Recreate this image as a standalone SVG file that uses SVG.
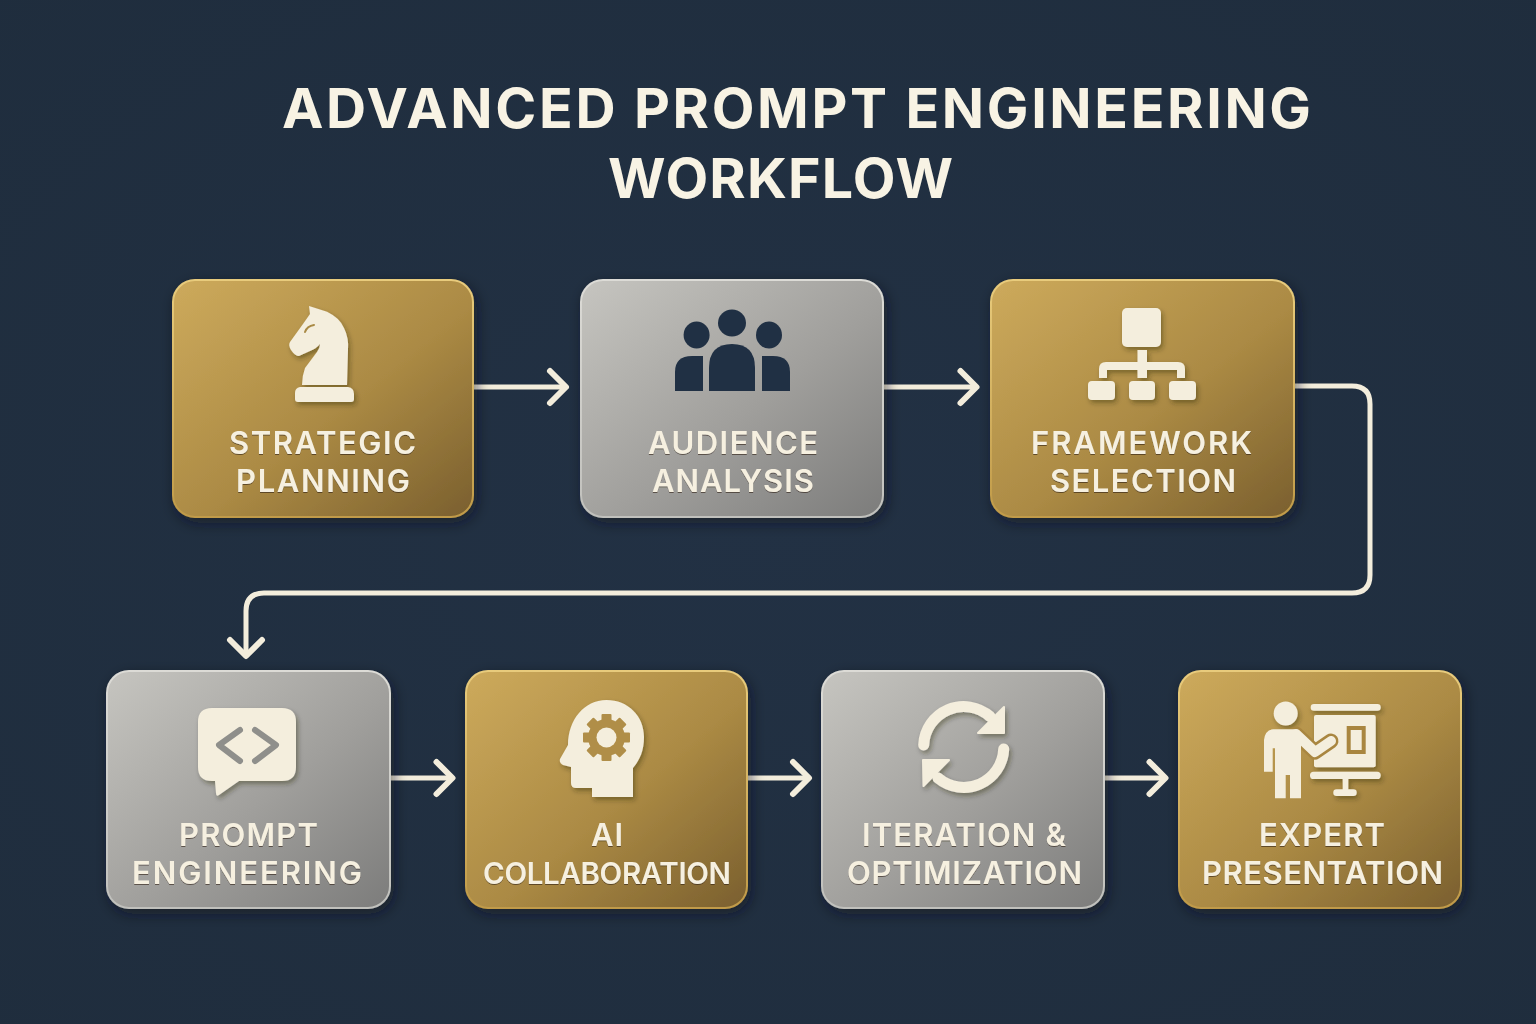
<svg xmlns="http://www.w3.org/2000/svg" width="1536" height="1024" viewBox="0 0 1536 1024">
<defs>
<linearGradient id="gold" x1="0" y1="0" x2="1" y2="1"><stop offset="0" stop-color="#cdaa5c"/><stop offset="0.55" stop-color="#ab8a44"/><stop offset="1" stop-color="#7a5f2e"/></linearGradient>
<linearGradient id="grey" x1="0" y1="0" x2="1" y2="1"><stop offset="0" stop-color="#c6c5c0"/><stop offset="0.55" stop-color="#a09f9c"/><stop offset="1" stop-color="#7c7c7b"/></linearGradient>
<linearGradient id="goldEdge" x1="0" y1="0" x2="0" y2="1"><stop offset="0" stop-color="#e8cb7c"/><stop offset="1" stop-color="#c09a48"/></linearGradient>
<linearGradient id="greyEdge" x1="0" y1="0" x2="0" y2="1"><stop offset="0" stop-color="#dcdbd6"/><stop offset="1" stop-color="#c0c0bc"/></linearGradient>
<radialGradient id="bgGrad" cx="0.5" cy="0.5" r="0.75"><stop offset="0" stop-color="#223144"/><stop offset="1" stop-color="#1f2d3d"/></radialGradient>
<filter id="card" x="-15%" y="-15%" width="130%" height="130%"><feDropShadow dx="3" dy="5" stdDeviation="7" flood-color="#0c1520" flood-opacity="0.55"/></filter>
<filter id="icon" x="-20%" y="-20%" width="140%" height="140%"><feDropShadow dx="2" dy="3" stdDeviation="2.5" flood-color="#2a2010" flood-opacity="0.4"/></filter>
<filter id="txt" x="-5%" y="-20%" width="110%" height="140%"><feDropShadow dx="0" dy="1" stdDeviation="0.6" flood-color="#2a2010" flood-opacity="0.6"/></filter>
<marker id="head" markerUnits="userSpaceOnUse" markerWidth="40" markerHeight="44" refX="20" refY="20" orient="auto" overflow="visible"><path d="M4 4 L20 20 L4 36" fill="none" stroke="#f3eddc" stroke-width="6" stroke-linecap="round" stroke-linejoin="round"/></marker>
</defs>
<style>
.title{font-family:"Inter","Liberation Sans",sans-serif;font-weight:700;font-size:55.5px;fill:#f8f3e4;text-anchor:middle}
.label{font-family:"Inter","Liberation Sans",sans-serif;font-weight:600;font-size:31px;fill:#f6f0e0;text-anchor:middle;filter:url(#txt)}
.conn{fill:none;stroke:#f3eddc;stroke-width:5;marker-end:url(#head)}
.g{fill:url(#gold);stroke:url(#goldEdge);stroke-width:2;filter:url(#card)}
.s{fill:url(#grey);stroke:url(#greyEdge);stroke-width:2;filter:url(#card)}
.ic{fill:#f4eedd;filter:url(#icon)}
.dk{fill:#203044}
</style>
<rect width="1536" height="1024" fill="url(#bgGrad)"/>
<g id="title">
<text class="title" x="796.5" y="128" textLength="1029">ADVANCED PROMPT ENGINEERING</text>
<text class="title" x="780.5" y="198" textLength="345">WORKFLOW</text>
</g>
<g id="connectors">
<path class="conn" d="M474 387 H566"/>
<path class="conn" d="M884 387 H976.5"/>
<path class="conn" d="M1295 386 H1352 Q1370 386 1370 404 V575 Q1370 593 1352 593 H264 Q246 593 246 611 V656"/>
<path class="conn" d="M391 778 H452.5"/>
<path class="conn" d="M748 778 H809"/>
<path class="conn" d="M1105 778 H1165.5"/>
</g>
<g id="node-strategic-planning">
<rect class="g" x="173" y="280" width="300" height="237" rx="22"/>
<g class="ic">
<path d="M309 306 L327 311.7 Q340 318 344 328 Q349 338 348 350 L347 385 H302 Q302 376 305 368 L317 352 Q320 348 320 344 Q316 349 310 351 L299 356 Q295 356 291 350 Q288 345 290 342 L303 324 L310 314 Z"/>
<path d="M300 387 H348 Q354 388 354 394 V399 Q354 402 351 402 H298 Q295 402 295 399 V393 Q295 388 300 387 Z"/>
</g>
<path d="M305 332 Q307 326 314 325" fill="none" stroke="#a98a45" stroke-width="2" stroke-linecap="round"/>
<text class="label" x="322.5" y="453.5" textLength="187">STRATEGIC</text>
<text class="label" x="323" y="491.5" textLength="174">PLANNING</text>
</g>
<g id="node-audience-analysis">
<rect class="s" x="581" y="280" width="302" height="237" rx="22"/>
<g class="dk">
<ellipse cx="732" cy="323" rx="14" ry="13.5"/>
<ellipse cx="696.6" cy="335" rx="13" ry="13.5"/>
<ellipse cx="769" cy="335" rx="13" ry="13.5"/>
<path d="M709 391 V368 Q709 344 732 344 Q755 344 755 368 V391 Z"/>
<path d="M675 391 V372 Q675 356 692 356 H703 V391 Z"/>
<path d="M790 391 V372 Q790 356 773 356 H762 V391 Z"/>
</g>
<text class="label" x="733" y="453.5" textLength="170">AUDIENCE</text>
<text class="label" x="733" y="491.5" textLength="162">ANALYSIS</text>
</g>
<g id="node-framework-selection">
<rect class="g" x="991" y="280" width="303" height="237" rx="22"/>
<g class="ic">
<rect x="1122" y="308" width="39" height="39" rx="5"/>
<path d="M1137.5 350 H1147 V362 H1178 Q1185 362 1185 369 V378 H1177 V370 H1147 V378 H1137.5 V370 H1107 V378 H1099 V369 Q1099 362 1106 362 H1137.5 Z"/>
<rect x="1088" y="381" width="27" height="19" rx="4"/>
<rect x="1129" y="381" width="26" height="19" rx="4"/>
<rect x="1169" y="381" width="27" height="19" rx="4"/>
</g>
<text class="label" x="1141.5" y="453.5" textLength="221">FRAMEWORK</text>
<text class="label" x="1143" y="491.5" textLength="186">SELECTION</text>
</g>
<g id="node-prompt-engineering">
<rect class="s" x="107" y="671" width="283" height="237" rx="22"/>
<path class="ic" d="M212 708 H282 Q296 708 296 722 V767 Q296 781 282 781 H239 L219 795 Q216 797 216 793 L215 781 H212 Q198 781 198 767 V722 Q198 708 212 708 Z"/>
<path d="M240 730 L219 745 L240 761 M255 730 L276 745 L255 761" fill="none" stroke="#8f8f8b" stroke-width="6" stroke-linecap="round" stroke-linejoin="round"/>
<text class="label" x="248.5" y="845.5" textLength="139">PROMPT</text>
<text class="label" x="247" y="883.5" textLength="230">ENGINEERING</text>
</g>
<g id="node-ai-collaboration">
<rect class="g" x="466" y="671" width="281" height="237" rx="22"/>
<path class="ic" d="M606.5 700 C628 700 644 716 644 737 C644 750 640 760 633 768 V797 H592 V788 H576 Q571 788 571 783 V767 L563 765 Q559 763 560 759 L568 745 C568 720 584 700 606.5 700 Z"/>
<g fill="#b08e48">
<circle cx="606.5" cy="737.5" r="18.5"/>
<rect x="601.5" y="714" width="10" height="47" rx="1"/>
<rect x="583" y="732.5" width="47" height="10" rx="1"/>
<rect x="601.5" y="714" width="10" height="47" rx="1" transform="rotate(45 606.5 737.5)"/>
<rect x="601.5" y="714" width="10" height="47" rx="1" transform="rotate(-45 606.5 737.5)"/>
</g>
<circle cx="606.5" cy="737.5" r="10" fill="#f4eedd"/>
<text class="label" x="607" y="845.5" textLength="32">AI</text>
<text class="label" x="607" y="883.5" textLength="248" style="font-size:29.5px">COLLABORATION</text>
</g>
<g id="node-iteration-optimization">
<rect class="s" x="822" y="671" width="282" height="237" rx="22"/>
<g filter="url(#icon)">
<path d="M923.7 745 A40 40 0 0 1 990 716.5" fill="none" stroke="#f4eedd" stroke-width="11" stroke-linecap="round"/>
<path d="M1004 707 V733 H978 Z" fill="#f4eedd" stroke="#f4eedd" stroke-width="2" stroke-linejoin="round"/>
<path d="M1003.7 749 A40 40 0 0 1 938 778" fill="none" stroke="#f4eedd" stroke-width="11" stroke-linecap="round"/>
<path d="M923 760 H949 L923.5 786 Z" fill="#f4eedd" stroke="#f4eedd" stroke-width="2" stroke-linejoin="round"/>
</g>
<text class="label" x="964" y="845.5" textLength="204">ITERATION &amp;</text>
<text class="label" x="964.5" y="883.5" textLength="235">OPTIMIZATION</text>
</g>
<g id="node-expert-presentation">
<rect class="g" x="1179" y="671" width="282" height="237" rx="22"/>
<g class="ic">
<circle cx="1285.7" cy="713.5" r="12"/>
<rect x="1310.7" y="704" width="70" height="6.7" rx="3.3"/>
<rect x="1314" y="715" width="61.7" height="52.3" rx="2"/>
<rect x="1310" y="771.7" width="70.7" height="7.3" rx="3.6"/>
<rect x="1342.7" y="779" width="5.6" height="11"/>
<rect x="1333.3" y="789.3" width="23.4" height="6.7" rx="3.3"/>
</g>
<path d="M1346.7 726 H1365.7 V754 H1346.7 Z M1350.7 730 V750 H1361.7 V730 Z" fill="#a98640" fill-rule="evenodd"/>
<path d="M1296 734 L1315 752 L1331 741" fill="none" stroke="#a98640" stroke-width="15" stroke-linecap="round" stroke-linejoin="round"/>
<path d="M1273 729.3 H1294 Q1298 729.3 1301 733 L1301 798.3 H1290 V775 H1285.7 V798.3 H1275 V748.3 H1272.7 V771.7 H1264 V740 Q1265 730 1273 729.3 Z" fill="#f4eedd"/>
<path d="M1296 734 L1315 752 L1331 741" fill="none" stroke="#f4eedd" stroke-width="10" stroke-linecap="round" stroke-linejoin="round"/>
<text class="label" x="1322" y="845.5" textLength="126">EXPERT</text>
<text class="label" x="1322.5" y="883.5" textLength="241">PRESENTATION</text>
</g>
</svg>
